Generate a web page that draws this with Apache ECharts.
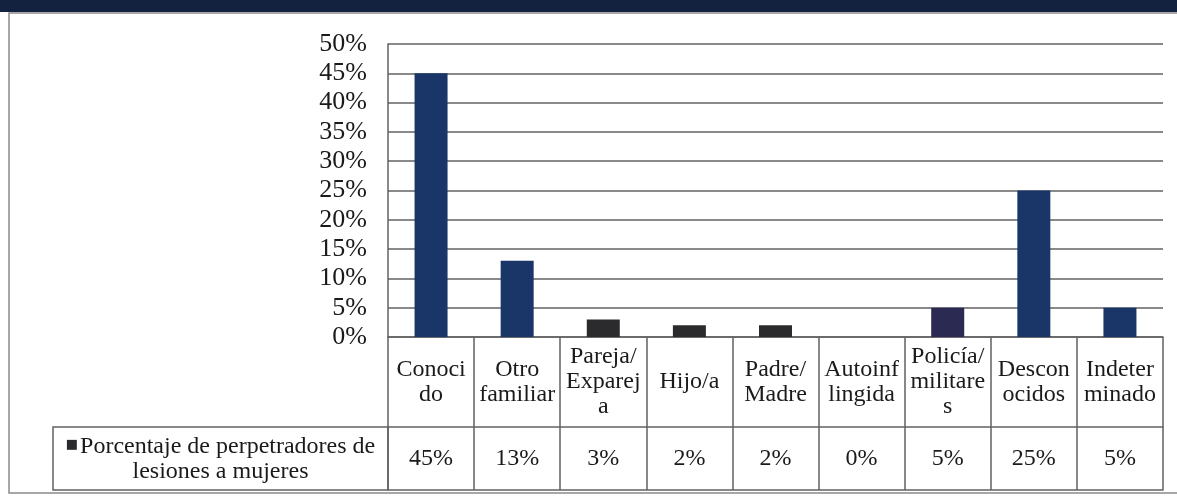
<!DOCTYPE html>
<html>
<head>
<meta charset="utf-8">
<script src="https://cdn.jsdelivr.net/npm/echarts@6/dist/echarts.min.js"></script>
<style>
  html, body { margin: 0; padding: 0; background: #ffffff; }
  #chart { width: 1177px; height: 497px; }
</style>
</head>
<body>
<div id="chart"></div>
<script>
// Categories (wrapped as in the data table) and percentages
const categories = [
  'Conoci\ndo', 'Otro\nfamiliar', 'Pareja/\nExparej\na', 'Hijo/a', 'Padre/\nMadre',
  'Autoinf\nlingida', 'Policía/\nmilitare\ns', 'Descon\nocidos', 'Indeter\nminado'
];
const values = [45, 13, 3, 2, 2, 0, 5, 25, 5];
const seriesName = 'Porcentaje de perpetradores de\nlesiones a mujeres';
const yTicks = [0, 5, 10, 15, 20, 25, 30, 35, 40, 45, 50];

// Bar fills per category
const barColors = ['#1a3668', '#1a3668', '#2b2b2d', '#2b2b2d', '#2b2b2d', '#2b2b2d', '#2a2a52', '#1a3668', '#1a3668'];

const serif = '"Liberation Serif", "DejaVu Serif", serif';
const lineCol = '#626262';

const chart = echarts.init(document.getElementById('chart'), null, { renderer: 'canvas' });

const gridLeft = 388, gridRight = 14, gridTop = 44, gridBottom = 160;
const plotBottom = 497 - gridBottom;   // y of the 0% line
const row1 = 90;                        // height of category row
const row2 = 63;                        // height of value row

chart.setOption({
  animation: false,
  backgroundColor: '#ffffff',
  grid: { left: gridLeft, right: gridRight, top: gridTop, bottom: gridBottom, containLabel: false },
  xAxis: [
    {
      type: 'category',
      data: categories,
      position: 'bottom',
      axisLine: { show: true, lineStyle: { color: lineCol, width: 1.5 } },
      axisTick: { show: true, alignWithLabel: false, interval: 0, length: row1 + row2, lineStyle: { color: lineCol, width: 1.5 } },
      axisLabel: {
        interval: 0, margin: row1 / 2, verticalAlign: 'middle', align: 'center',
        fontFamily: serif, fontSize: 24, color: '#1a1a1a', lineHeight: 25
      }
    },
    {
      type: 'category',
      data: categories,
      position: 'bottom',
      offset: row1,
      axisLine: { show: true, lineStyle: { color: lineCol, width: 1.5 } },
      axisTick: { show: false },
      axisLabel: {
        interval: 0, margin: row2 / 2, verticalAlign: 'middle', align: 'center',
        fontFamily: serif, fontSize: 24, color: '#1a1a1a',
        formatter: (v, i) => values[i] + '%'
      }
    },
    {
      type: 'category',
      data: categories,
      position: 'bottom',
      offset: row1 + row2,
      axisLine: { show: true, lineStyle: { color: lineCol, width: 1.5 } },
      axisTick: { show: false },
      axisLabel: { show: false }
    }
  ],
  yAxis: {
    type: 'value',
    min: yTicks[0],
    max: yTicks[yTicks.length - 1],
    interval: 5,
    axisLine: { show: true, lineStyle: { color: lineCol, width: 1.5 } },
    axisTick: { show: false },
    splitLine: { show: true, lineStyle: { color: lineCol, width: 1.5 } },
    axisLabel: {
      margin: 21, fontFamily: serif, fontSize: 26, color: '#1a1a1a',
      formatter: '{value}%'
    }
  },
  series: [{
    name: seriesName,
    type: 'bar',
    xAxisIndex: 0,
    data: values,
    barWidth: 33,
    itemStyle: { color: (p) => barColors[p.dataIndex] }
  }],
  graphic: [
    // top banner
    { type: 'rect', shape: { x: 0, y: 0, width: 1177, height: 12 }, style: { fill: '#13233f' }, silent: true },
    // outer chart frame
    { type: 'rect', shape: { x: 9, y: 13, width: 1180, height: 480 }, style: { fill: 'none', stroke: '#8a8a8a', lineWidth: 1.5 }, silent: true, z: -1 },
    // legend key cell of the data table
    { type: 'rect', shape: { x: 53, y: plotBottom + row1, width: gridLeft - 53, height: row2 },
      style: { fill: 'none', stroke: lineCol, lineWidth: 1.5 }, silent: true },
    {
      type: 'text',
      x: (53 + gridLeft) / 2, y: plotBottom + row1 + row2 / 2 + 1,
      style: {
        text: '{sq|■}' + seriesName.split('\n')[0] + '\n' + seriesName.split('\n')[1],
        align: 'center', verticalAlign: 'middle',
        font: '24px ' + serif, fill: '#1a1a1a', lineHeight: 25,
        rich: { sq: { fontSize: 13, fill: '#2b2b2d', padding: [0, 2, 4, 0], fontFamily: 'DejaVu Sans' } }
      },
      silent: true
    }
  ]
});
</script>
</body>
</html>
